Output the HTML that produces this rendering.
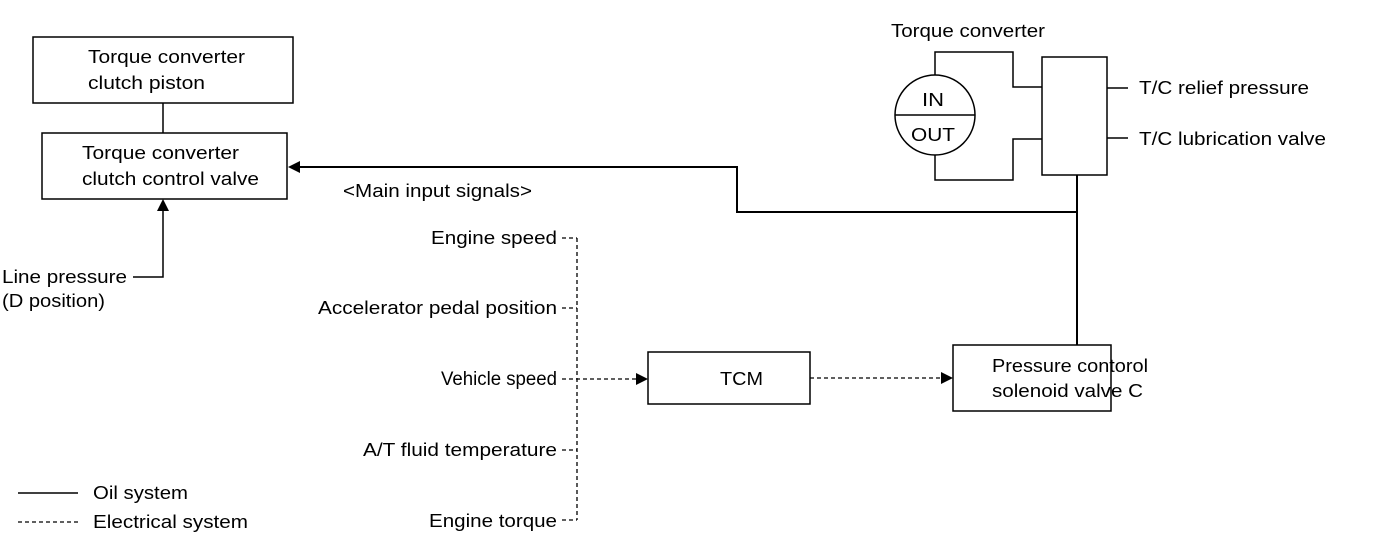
<!DOCTYPE html>
<html><head><style>
body{margin:0;background:#fff;}
svg{display:block;font-family:"Liberation Sans",sans-serif;font-size:18px;}
</style></head><body>
<svg width="1376" height="550" viewBox="0 0 1376 550" xmlns="http://www.w3.org/2000/svg">
<g fill="none" stroke="#000" stroke-width="1.5">
<rect x="33" y="37" width="260" height="66"/>
<rect x="42" y="133" width="245" height="66"/>
<line x1="163" y1="103" x2="163" y2="133"/>
<polyline points="133,277 163,277 163,210"/>
<polyline points="1077,175 1077,212 737,212 737,167 298,167" stroke-width="2"/>
<line x1="1077" y1="212" x2="1077" y2="345" stroke-width="2"/>
<rect x="1042" y="57" width="65" height="118"/>
<circle cx="935" cy="115" r="40"/>
<line x1="895" y1="115" x2="975" y2="115"/>
<polyline points="935,75 935,52 1013,52 1013,87 1042,87"/>
<polyline points="935,155 935,180 1013,180 1013,139 1042,139"/>
<line x1="1107" y1="88" x2="1128" y2="88"/>
<line x1="1107" y1="138" x2="1128" y2="138"/>
<rect x="648" y="352" width="162" height="52"/>
<rect x="953" y="345" width="158" height="66"/>
<line x1="18" y1="493" x2="78" y2="493"/>
</g>
<g fill="none" stroke="#000" stroke-width="1.3" stroke-dasharray="4,3">
<line x1="577" y1="238" x2="577" y2="520"/>
<line x1="562" y1="238" x2="577" y2="238"/>
<line x1="562" y1="308" x2="577" y2="308"/>
<line x1="562" y1="379" x2="638" y2="379"/>
<line x1="562" y1="450" x2="577" y2="450"/>
<line x1="562" y1="520" x2="577" y2="520"/>
<line x1="810" y1="378" x2="942" y2="378"/>
<line x1="18" y1="522" x2="78" y2="522"/>
</g>
<g fill="#000">
<polygon points="288,167 300,161 300,173"/>
<polygon points="163,199 157,211 169,211"/>
<polygon points="648,379 636,373 636,385"/>
<polygon points="953,378 941,372 941,384"/>
</g>
<g fill="#000">
<text x="88" y="63" textLength="157" lengthAdjust="spacingAndGlyphs">Torque converter</text>
<text x="88" y="89" textLength="117" lengthAdjust="spacingAndGlyphs">clutch piston</text>
<text x="82" y="159" textLength="157" lengthAdjust="spacingAndGlyphs">Torque converter</text>
<text x="82" y="185" textLength="177" lengthAdjust="spacingAndGlyphs">clutch control valve</text>
<text x="2" y="283" textLength="125" lengthAdjust="spacingAndGlyphs">Line pressure</text>
<text x="2" y="307" textLength="103" lengthAdjust="spacingAndGlyphs">(D position)</text>
<text x="343" y="197" textLength="189" lengthAdjust="spacingAndGlyphs">&lt;Main input signals&gt;</text>
<text x="891" y="37" textLength="154" lengthAdjust="spacingAndGlyphs">Torque converter</text>
<text x="922" y="106" textLength="22" lengthAdjust="spacingAndGlyphs">IN</text>
<text x="911" y="141" textLength="44" lengthAdjust="spacingAndGlyphs">OUT</text>
<text x="1139" y="94" textLength="170" lengthAdjust="spacingAndGlyphs">T/C relief pressure</text>
<text x="1139" y="145" textLength="187" lengthAdjust="spacingAndGlyphs">T/C lubrication valve</text>
<text x="431" y="244" textLength="126" lengthAdjust="spacingAndGlyphs">Engine speed</text>
<text x="318" y="314" textLength="239" lengthAdjust="spacingAndGlyphs">Accelerator pedal position</text>
<text x="441" y="385" font-size="19" textLength="116" lengthAdjust="spacingAndGlyphs">Vehicle speed</text>
<text x="363" y="456" textLength="194" lengthAdjust="spacingAndGlyphs">A/T fluid temperature</text>
<text x="429" y="527" textLength="128" lengthAdjust="spacingAndGlyphs">Engine torque</text>
<text x="720" y="385" textLength="43" lengthAdjust="spacingAndGlyphs">TCM</text>
<text x="992" y="372" textLength="156" lengthAdjust="spacingAndGlyphs">Pressure contorol</text>
<text x="992" y="397" textLength="151" lengthAdjust="spacingAndGlyphs">solenoid valve C</text>
<text x="93" y="499" textLength="95" lengthAdjust="spacingAndGlyphs">Oil system</text>
<text x="93" y="528" textLength="155" lengthAdjust="spacingAndGlyphs">Electrical system</text>
</g>
</svg>
</body></html>
